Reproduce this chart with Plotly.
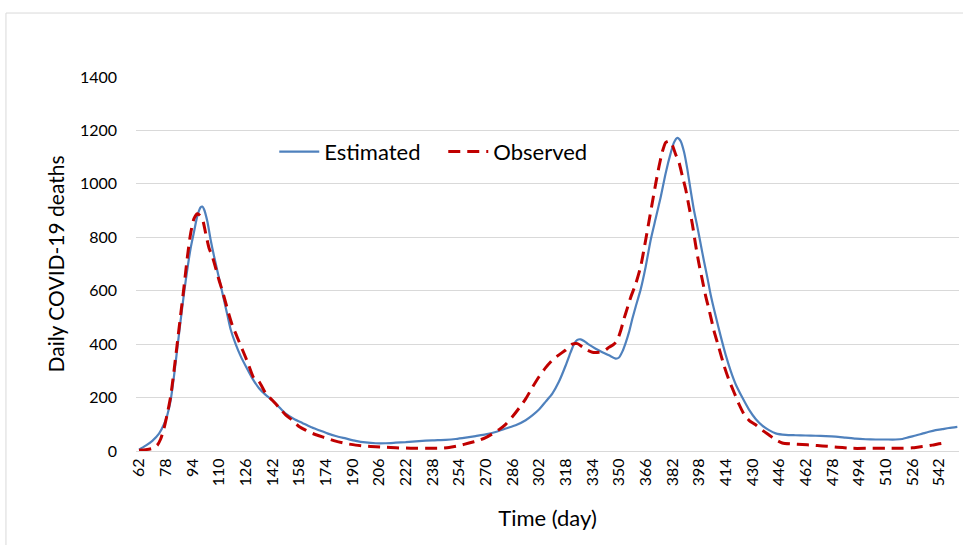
import plotly.graph_objects as go

# ---- data ----
est_days = [62, 66, 70, 74, 77, 79, 81, 83, 85, 87, 89, 91, 93, 95, 97, 99, 100, 101, 103, 105,
            107, 109, 111, 113, 115, 117, 120, 123, 126, 130, 134, 138, 142, 146, 150, 155, 160,
            165, 170, 175, 180, 186, 192, 198, 204, 210, 216, 222, 230, 238, 246, 252, 258, 264,
            270, 276, 282, 288, 294, 298, 302, 306, 310, 314, 318, 321, 323, 325, 327, 329, 332,
            336, 340, 344, 348, 350, 352, 354, 356, 358, 360, 363, 366, 369, 372, 375, 378, 381,
            383, 385, 387, 389, 391, 393, 395, 397, 399, 401, 403, 405, 408, 411, 414, 417, 420,
            424, 428, 432, 436, 440, 444, 450, 456, 462, 468, 474, 480, 486, 492, 498, 504, 510,
            516, 520, 524, 528, 532, 536, 540, 544, 548, 553]
est_vals = [5, 20, 38, 65, 100, 135, 190, 280, 385, 490, 590, 680, 760, 820, 880, 912, 915, 905, 860, 790,
            730, 675, 620, 565, 510, 455, 400, 355, 318, 272, 235, 210, 190, 165, 140, 120, 105,
            90, 78, 66, 56, 47, 38, 32, 29, 29, 31, 33, 37, 40, 42, 45, 50, 56,
            62, 71, 84, 96, 115, 133, 155, 185, 215, 260, 320, 370, 400, 416, 418, 412, 398,
            383, 370, 358, 346, 350, 372, 405, 445, 495, 540, 605, 690, 790, 870, 950, 1040, 1115,
            1155, 1172, 1160, 1120, 1055, 975, 900, 840, 775, 710, 650, 585, 505, 430, 360, 300, 250,
            200, 155, 120, 95, 78, 66, 60, 59, 58, 57, 56, 54, 50, 46, 44, 43, 43,
            43, 45, 52, 58, 65, 72, 78, 82, 86, 90]

obs_days = [62, 66, 70, 73, 75, 77, 79, 81, 83, 85, 87, 89, 91, 93, 95, 97, 98, 100, 102, 104,
            106, 108, 110, 112, 114, 116, 118, 120, 122, 124, 126, 128, 131, 134, 138, 142, 146,
            150, 154, 158, 162, 166, 170, 175, 180, 186, 192, 198, 204, 210, 216, 222, 228, 236,
            242, 248, 254, 260, 266, 270, 274, 278, 282, 286, 290, 294, 298, 302, 306, 310, 314,
            318, 322, 325, 328, 331, 334, 338, 341, 344, 347, 349, 351, 353, 355, 357, 360, 363,
            366, 368, 370, 372, 374, 376, 378, 380, 382, 384, 386, 388, 390, 392, 394, 396, 398,
            400, 402, 404, 407, 410, 413, 416, 419, 422, 425, 428, 432, 436, 440, 444, 448, 454,
            460, 466, 472, 478, 484, 490, 500, 510, 520, 526, 530, 534, 538, 542, 545, 547]
obs_vals = [3, 5, 10, 22, 45, 85, 140, 205, 300, 405, 510, 615, 725, 815, 870, 888, 885, 870, 815, 760,
            728, 685, 640, 600, 555, 510, 470, 440, 410, 380, 350, 318, 272, 260, 216, 190, 163,
            135, 115, 92, 78, 66, 57, 47, 37, 28, 22, 18, 16, 14, 12, 11, 10, 10,
            10, 13, 20, 30, 40, 50, 64, 80, 100, 128, 160, 195, 238, 278, 312, 340, 360,
            378, 400, 402, 390, 378, 370, 370, 375, 388, 400, 415, 450, 495, 535, 575, 625, 690,
            790, 860, 930, 1000, 1065, 1120, 1155, 1160, 1145, 1110, 1080, 1030, 980, 915, 850, 770, 700,
            640, 580, 530, 450, 385, 320, 265, 220, 175, 138, 115, 98, 78, 60, 42, 30, 26,
            24, 22, 19, 16, 13, 10, 10, 10, 10, 12, 15, 18, 22, 27, 30, 32]

x_ticks = list(range(62, 543, 16))
y_ticks = [0, 200, 400, 600, 800, 1000, 1200, 1400]

FONT = "Lato"

fig = go.Figure()
fig.add_trace(go.Scatter(
    x=est_days, y=est_vals, mode="lines", name="Estimated",
    line=dict(color="#4F81BD", width=2.2, shape="spline", smoothing=0.6),
))
fig.add_trace(go.Scatter(
    x=obs_days, y=obs_vals, mode="lines", name="Observed",
    line=dict(color="#C00000", width=3, dash="12px,7px", shape="spline", smoothing=0.6),
))

fig.update_layout(
    width=963, height=545,
    margin=dict(l=136, r=4, t=77, b=94),
    plot_bgcolor="white", paper_bgcolor="white",
    font=dict(family=FONT, size=16, color="#000000"),
    showlegend=True,
    legend=dict(orientation="h", x=0.168, y=0.80, xanchor="left", yanchor="middle",
                font=dict(family=FONT, size=22), bgcolor="rgba(0,0,0,0)",
                itemwidth=40, entrywidth=114),
    xaxis=dict(
        range=[60.2, 554], tickmode="array", tickvals=x_ticks,
        ticktext=[str(v) for v in x_ticks], tickangle=-90,
        showgrid=False, zeroline=False, showline=True, linecolor="#D9D9D9", linewidth=1,
        ticks="", tickfont=dict(size=16),
        title=dict(text="Time (day)", font=dict(size=22), standoff=25),
    ),
    yaxis=dict(
        range=[0, 1400], tickmode="array", tickvals=y_ticks,
        showgrid=True, gridcolor="#D9D9D9", gridwidth=1, zeroline=False,
        showline=False, ticks="", ticklen=0, tickfont=dict(size=16),
        ticklabelstandoff=18,
        title=dict(text="Daily COVID-19 deaths", font=dict(size=21), standoff=9),
    ),
    shapes=[dict(type="rect", xref="paper", yref="paper",
                 x0=-0.158, x1=1.02, y0=-0.3, y1=1.171,
                 line=dict(color="#D9D9D9", width=1), fillcolor="rgba(0,0,0,0)", layer="below")],
)

fig.write_html("out.html")
